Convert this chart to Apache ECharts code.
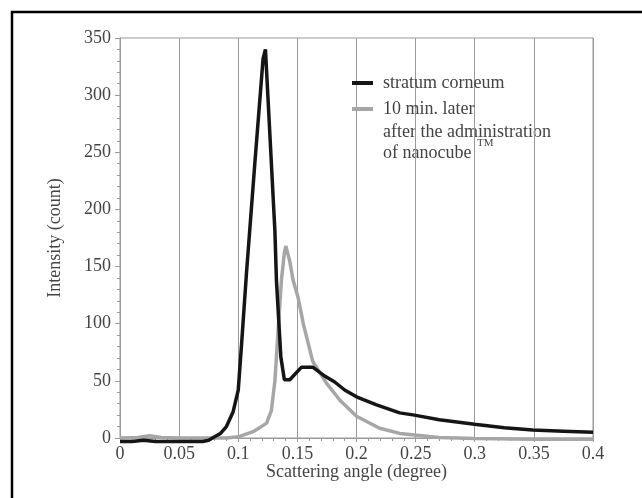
<!DOCTYPE html>
<html><head><meta charset="utf-8">
<script src="https://cdn.jsdelivr.net/npm/echarts@6/dist/echarts.min.js"></script>
<style>html,body{margin:0;padding:0;background:#fff}#c{width:642px;height:498px}</style>
</head><body><div id="c"></div>
<script>
const seriesNames = ['stratum corneum', '10 min. later'];
const legendExtraLines = ['after the administration', 'of nanocube'];
const legendSuperscript = 'TM';
const xTickLabels = ['0', '0.05', '0.1', '0.15', '0.2', '0.25', '0.3', '0.35', '0.4'];
const yTickLabels = ['0', '50', '100', '150', '200', '250', '300', '350'];
const xAxisTitle = 'Scattering angle (degree)';
const yAxisTitle = 'Intensity (count)';

const stratumX = [0,0.01,0.02,0.03,0.04,0.05,0.06,0.07,0.075,0.08,0.085,0.09,0.0957,0.1,0.1028,0.107,0.114,0.121,0.123,0.131,0.1323,0.136,0.139,0.1436,0.1535,0.163,0.172,0.1816,0.19,0.2,0.217,0.2365,0.249,0.27,0.2998,0.325,0.349,0.375,0.4];
const stratumY = [-3,-3,-2,-3,-3,-3,-3,-3,-2,1,4,10,23,42,82,145,240,332,340,181,138,71,51,51,62,62,55,49,42,36,29,22,20,16,12,9,7,6,5];

const laterX = [0,0.015,0.025,0.035,0.05,0.07,0.09,0.1,0.1126,0.124,0.128,0.131,0.1337,0.1365,0.139,0.1402,0.1435,0.1464,0.1506,0.155,0.163,0.1746,0.186,0.2,0.2196,0.2365,0.249,0.27,0.3,0.35,0.4];
const laterY = [0,0.5,2,0.5,0,0,0,1,5.5,13,24,50,94,138,162,168,155,138,123,100,67,48,33,19,8.5,4,2.6,0.5,-0.5,-1,-1];

const pairs = (xs, ys) => xs.map((x, i) => [x, ys[i]]);
const FONT = '"Liberation Serif", "Times New Roman", serif';
const TXT = '#444';
const AX = '#999';

const chart = echarts.init(document.getElementById('c'), null, {renderer: 'canvas'});
chart.setOption({
  animation: false,
  backgroundColor: '#fff',
  grid: {left: 120, right: 49, top: 38, bottom: 60, show: true, borderColor: AX, borderWidth: 1, backgroundColor: 'transparent'},
  legend: {
    orient: 'vertical', left: 352, top: 74, itemGap: 8, padding: 0,
    itemWidth: 21, itemHeight: 4, icon: 'rect',
    data: [seriesNames[0], seriesNames[1]],
    textStyle: {fontFamily: FONT, fontSize: 18, color: TXT, padding: [0, 0, 0, 5]}
  },
  xAxis: {
    type: 'value', min: 0, max: 0.4, interval: 0.05,
    name: xAxisTitle, nameLocation: 'middle', nameGap: 25, nameMoveOverlap: false,
    nameTextStyle: {fontFamily: FONT, fontSize: 18, color: TXT},
    axisLine: {show: true, lineStyle: {color: AX, width: 1}},
    axisTick: {show: true, length: 4, lineStyle: {color: AX}},
    minorTick: {show: true, splitNumber: 5, length: 3, lineStyle: {color: AX}},
    splitLine: {show: true, lineStyle: {color: AX, width: 1}},
    axisLabel: {fontFamily: FONT, fontSize: 18, color: TXT, margin: 7,
      formatter: v => xTickLabels[Math.round(v / 0.05)]}
  },
  yAxis: {
    type: 'value', min: 0, max: 350, interval: 50,
    name: yAxisTitle, nameLocation: 'middle', nameGap: 56,
    nameTextStyle: {fontFamily: FONT, fontSize: 18, color: TXT},
    axisLine: {show: true, lineStyle: {color: AX, width: 1}},
    axisTick: {show: true, length: 5, lineStyle: {color: AX}},
    minorTick: {show: true, splitNumber: 5, length: 3, lineStyle: {color: AX}},
    splitLine: {show: false},
    axisLabel: {fontFamily: FONT, fontSize: 18, color: TXT, margin: 9,
      formatter: v => yTickLabels[Math.round(v / 50)]}
  },
  series: [
    {name: seriesNames[1], type: 'line', data: pairs(laterX, laterY), showSymbol: false, symbol: 'none',
     clip: false, color: '#a6a6a6', lineStyle: {color: '#a6a6a6', width: 3.5}, z: 2},
    {name: seriesNames[0], type: 'line', data: pairs(stratumX, stratumY), showSymbol: false, symbol: 'none',
     clip: false, color: '#151515', lineStyle: {color: '#151515', width: 3.5}, z: 3}
  ],
  graphic: [
    {type: 'rect', shape: {x: 12, y: 12, width: 700, height: 600}, style: {fill: 'none', stroke: '#000', lineWidth: 2.5}, silent: true},
    {type: 'text', x: 383, y: 132, style: {text: legendExtraLines[0], font: '18px ' + FONT, fill: TXT, verticalAlign: 'middle'}},
    {type: 'text', x: 383, y: 153, style: {text: legendExtraLines[1], font: '18px ' + FONT, fill: TXT, verticalAlign: 'middle'}},
    {type: 'text', x: 477, y: 143, style: {text: legendSuperscript, font: '11px ' + FONT, fill: TXT, verticalAlign: 'middle'}}
  ]
});
</script>
</body></html>
